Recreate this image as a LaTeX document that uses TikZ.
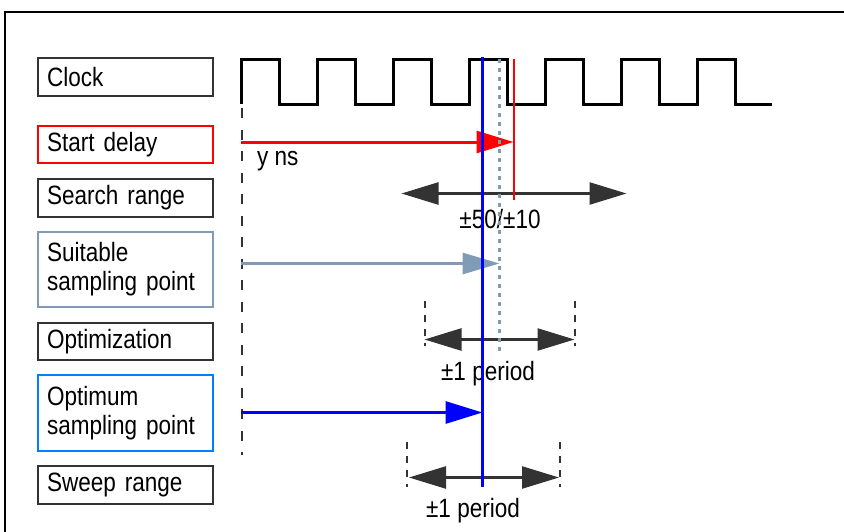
\documentclass[tikz,border=0pt]{standalone}
\usepackage{fontspec}
\setmainfont[FakeStretch=0.85]{Liberation Sans}
\usetikzlibrary{arrows.meta}
\definecolor{dgray}{HTML}{333333}
\definecolor{gblue}{HTML}{7F9BB6}
\definecolor{lblue}{HTML}{0080FF}
\begin{document}
\begin{tikzpicture}[x=1pt, y=-1pt,
  font=\fontsize{26.5pt}{29pt}\selectfont,
  lbox/.style={draw=dgray, line width=2.2pt, anchor=north west, minimum width=175pt,
    minimum height=#1, text width=157pt, inner xsep=9pt, inner ysep=0pt, align=left},
  lbl/.style={inner sep=0pt, anchor=base},
  hdarrow/.style={dgray, line width=2.5pt, {Triangle[length=37pt,width=22pt]}-{Triangle[length=37pt,width=22pt]}},
  bar/.style={dgray, line width=2pt, dash pattern=on 7pt off 7pt},
  ptr/.style={line width=3pt, -{Triangle[length=37pt,width=22pt]}}
]
\useasboundingbox (0,0) rectangle (844,531);
% outer frame
\coordinate (fb) at (5,540);
\coordinate (fc) at (5,12);
\coordinate (fr) at (850,12);
\draw[line width=2.5pt] (fb) -- (fc) -- (fr);

% label boxes
\node[lbox=38pt] (clock) at (37,57) {Clock};
\node[lbox=37pt, draw=red] (start) at (37,125) {Start delay};
\node[lbox=38pt] (search) at (37,178) {Search range};
\node[lbox=75pt, draw=gblue] (suit) at (37,231) {Suitable\\sampling point};
\node[lbox=37pt] (optz) at (37,322) {Optimization};
\node[lbox=76pt, draw=lblue] (optm) at (37,374) {Optimum\\sampling point};
\node[lbox=38pt] (sweep) at (37,465) {Sweep range};

% clock waveform
\draw[line width=3pt, line join=miter]
  (241,104) -- (241,59) -- (279,59) -- (279,104)
  -- (317,104) -- (317,59) -- (355,59) -- (355,104)
  -- (393,104) -- (393,59) -- (431,59) -- (431,104)
  -- (469,104) -- (469,59) -- (507,59) -- (507,104)
  -- (545,104) -- (545,59) -- (583,59) -- (583,104)
  -- (621,104) -- (621,59) -- (659,59) -- (659,104)
  -- (697,104) -- (697,59) -- (735,59) -- (735,104)
  -- (772,104);

% left dashed reference line
\coordinate (l0) at (241.5,108);
\coordinate (l1) at (241.5,455);
\draw[dgray, line width=2pt, dash pattern=on 10pt off 11.5pt] (l0) -- (l1);

% start delay arrow
\coordinate (rs) at (241,142);
\coordinate (re) at (513.5,142);
\draw[ptr, red] (rs) -- (re);
\node[inner sep=0pt, anchor=base west] (yns) at (257,165) {y ns};

% search range
\coordinate (s0) at (401.5,193.5);
\coordinate (s1) at (626.5,193.5);
\draw[hdarrow] (s0) -- (s1);
\node[lbl] (srl) at (500,228) {±50/±10};

% suitable sampling point
\coordinate (g0) at (241,263.5);
\coordinate (g1) at (499.5,263.5);
\draw[ptr, gblue, -{Triangle[length=37pt,width=21pt]}] (g0) -- (g1);

% optimization
\coordinate (o0) at (424.5,339.5);
\coordinate (o1) at (574.5,339.5);
\coordinate (ob0) at (424.5,301);
\coordinate (ob0e) at (424.5,346);
\coordinate (ob1) at (575,301);
\coordinate (ob1e) at (575,346);
\draw[bar] (ob0) -- (ob0e);
\draw[bar] (ob1) -- (ob1e);
\draw[hdarrow] (o0) -- (o1);
\node[lbl] (opl) at (488,380) {±1 period};

% optimum sampling point
\coordinate (b0) at (241,412.5);
\coordinate (b1) at (482.5,412.5);
\draw[ptr, blue] (b0) -- (b1);

% sweep range
\coordinate (w0) at (409,477.5);
\coordinate (w1) at (559,477.5);
\coordinate (wb0) at (406.5,442);
\coordinate (wb0e) at (406.5,487);
\coordinate (wb1) at (559.5,442);
\coordinate (wb1e) at (559.5,487);
\draw[bar] (wb0) -- (wb0e);
\draw[bar] (wb1) -- (wb1e);
\draw[hdarrow] (w0) -- (w1);
\node[lbl] (swl) at (473,517) {±1 period};

% vertical markers
\coordinate (rv0) at (513.5,59);
\coordinate (rv1) at (513.5,200);
\draw[red, line width=2pt] (rv0) -- (rv1);
\coordinate (gv0) at (499.5,59);
\coordinate (gv1) at (499.5,354);
\draw[gblue, line width=3pt, dash pattern=on 4pt off 5pt] (gv0) -- (gv1);
\coordinate (bv0) at (482.5,57);
\coordinate (bv1) at (482.5,487);
\draw[blue, line width=3pt] (bv0) -- (bv1);
\end{tikzpicture}
\end{document}
